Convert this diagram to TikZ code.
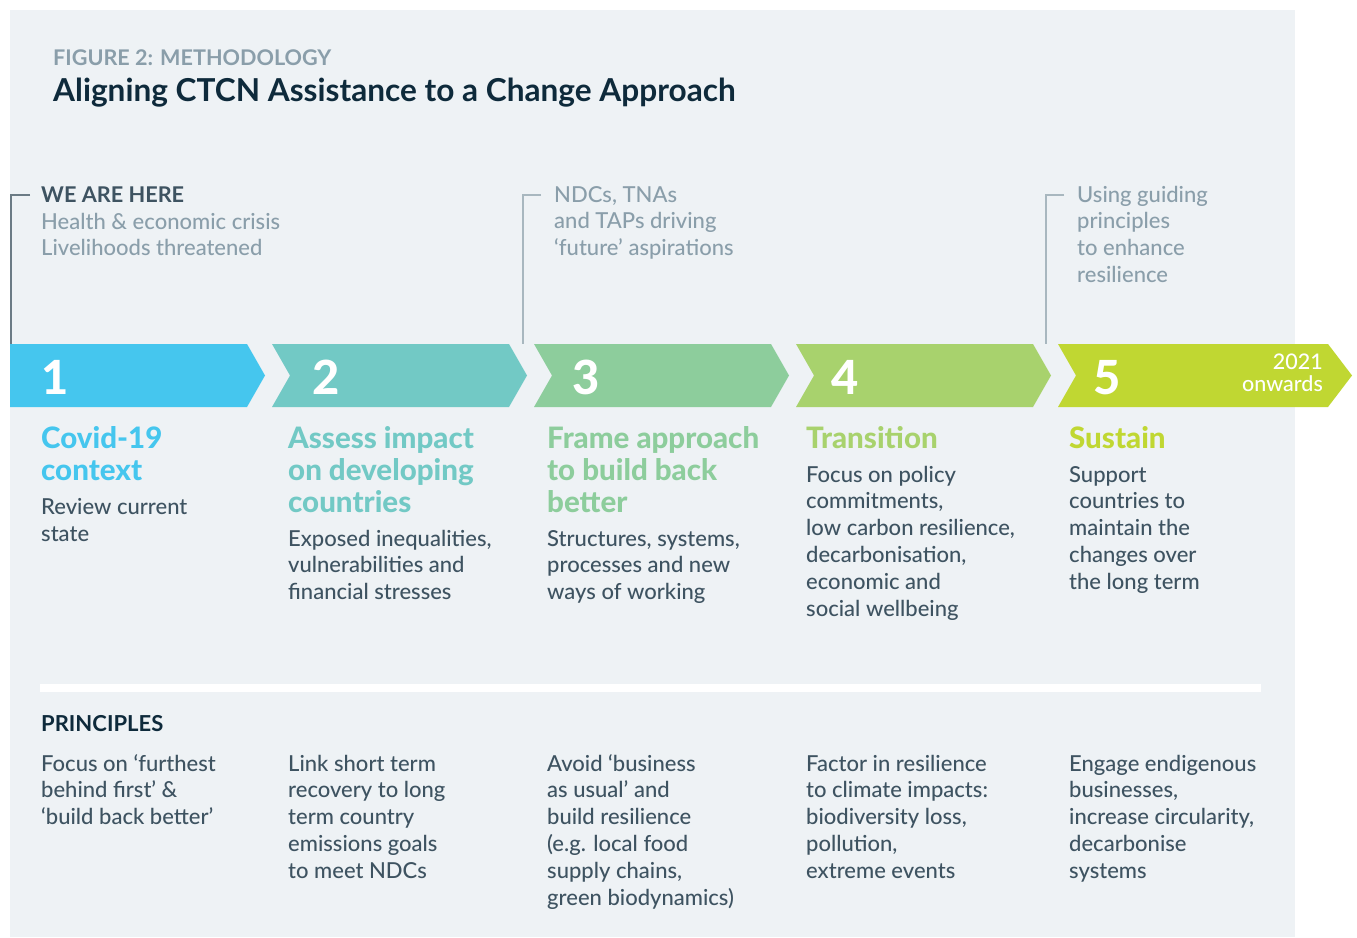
\documentclass[tikz,border=0pt]{standalone}
\usepackage{fontspec}
\setmainfont{Lato}
\newfontfamily\latoheavy{Lato Heavy}
\newfontfamily\latomedium{Lato Medium}
\definecolor{panel}{HTML}{EEF2F5}
\definecolor{navy}{HTML}{0E2A3B}
\definecolor{graylbl}{HTML}{8A9EAA}
\definecolor{slate}{HTML}{3E5361}
\definecolor{cA}{HTML}{45C6EE}
\definecolor{cB}{HTML}{72C9C5}
\definecolor{cC}{HTML}{8DCD9C}
\definecolor{cD}{HTML}{A8D26D}
\definecolor{cE}{HTML}{C0D732}
\definecolor{brkdark}{HTML}{6B7B85}
\definecolor{brklight}{HTML}{A8B7BF}
\tikzset{
  txt/.style={anchor=base west, align=left, inner sep=0pt},
  desc/.style={txt, text=slate, font=\latomedium\fontsize{22}{26.8}\selectfont},
  note/.style={txt, text=graylbl, font=\latomedium\fontsize{22}{26.8}\selectfont},
  steptitle/.style={txt, font=\latoheavy\fontsize{29.5}{32}\selectfont},
  num/.style={txt, text=white, font=\latoheavy\fontsize{47}{47}\selectfont},
  bracket/.style={line width=1.2pt},
}
\begin{document}
\begin{tikzpicture}[x=1pt,y=-1pt]
\useasboundingbox (0,0) rectangle (1357,937);
\fill[white] (0,0) rectangle (1357,937);
\fill[panel] (10,10) rectangle (1295,937);

% titles (multi-line nodes are placed by the baseline of their last line)
\node[txt, text=graylbl, font=\bfseries\fontsize{21.6}{24}\selectfont] (fig) at (53,65) {FIGURE 2: METHODOLOGY};
\node[txt, text=navy, font=\bfseries\fontsize{31.6}{36}\selectfont] (title) at (53,101) {Aligning CTCN Assistance to a Change Approach};

% chevrons
\fill[cA] (10,344) -- (247,344) -- (265,375.5) -- (247,407) -- (10,407) -- cycle;
\fill[cB] (272,344) -- (509,344) -- (527,375.5) -- (509,407) -- (272,407) -- (290,375.5) -- cycle;
\fill[cC] (534,344) -- (771,344) -- (789,375.5) -- (771,407) -- (534,407) -- (552,375.5) -- cycle;
\fill[cD] (796,344) -- (1033,344) -- (1051,375.5) -- (1033,407) -- (796,407) -- (814,375.5) -- cycle;
\fill[cE] (1058,344) -- (1328,344) -- (1352,375.5) -- (1328,407) -- (1058,407) -- (1076,375.5) -- cycle;

\node[num] (n1) at (41,394) {1};
\node[num] (n2) at (312,394) {2};
\node[num] (n3) at (572,394) {3};
\node[num] (n4) at (831,394) {4};
\node[num] (n5) at (1093,394) {5};
\node[anchor=base east, align=right, inner sep=0pt, text=white, font=\latomedium\fontsize{21.5}{22.5}\selectfont] (yr) at (1323,391.5) {2021\\onwards};

% brackets and notes
\coordinate (b1top) at (11,195);
\coordinate (b1tick) at (30,195);
\coordinate (b1bot) at (11,344);
\draw[bracket, brkdark] (b1tick) -- (b1top) -- (b1bot);
\node[txt, text=slate, font=\bfseries\fontsize{21.7}{24}\selectfont] (here) at (41,202) {WE ARE HERE};
\node[note] (herenote) at (41,255.8) {Health \& economic crisis\\Livelihoods threatened};

\coordinate (b2top) at (523,195);
\coordinate (b2tick) at (541,195);
\coordinate (b2bot) at (523,344);
\draw[bracket, brklight] (b2tick) -- (b2top) -- (b2bot);
\node[note] (ndcs) at (554,255.6) {NDCs, TNAs\\and TAPs driving\\‘future’ aspirations};

\coordinate (b3top) at (1046,195);
\coordinate (b3tick) at (1064,195);
\coordinate (b3bot) at (1046,344);
\draw[bracket, brklight] (b3tick) -- (b3top) -- (b3bot);
\node[note] (guide) at (1077,282.4) {Using guiding\\principles\\to enhance\\resilience};

% step titles
\node[steptitle, text=cA] (t1) at (41,480) {Covid-19\\context};
\node[steptitle, text=cB] (t2) at (288,512) {Assess impact\\on developing\\countries};
\node[steptitle, text=cC] (t3) at (547,512) {Frame approach\\to build back\\better};
\node[steptitle, text=cD] (t4) at (806,448) {Transition};
\node[steptitle, text=cE] (t5) at (1069,448) {Sustain};

% descriptions
\node[desc] (d1) at (41,541.5) {Review current\\state};
\node[desc] (d2) at (288,599.6) {Exposed inequalities,\\vulnerabilities and\\financial stresses};
\node[desc] (d3) at (547,599.6) {Structures, systems,\\processes and new\\ways of working};
\node[desc] (d4) at (806,616) {Focus on policy\\commitments,\\low carbon resilience,\\decarbonisation,\\economic and\\social wellbeing};
\node[desc] (d5) at (1069,589.2) {Support\\countries to\\maintain the\\changes over\\the long term};

% separator
\fill[white] (40,684) rectangle (1261,692);

% principles
\node[txt, text=navy, font=\bfseries\fontsize{22}{24}\selectfont] (princ) at (41,731) {PRINCIPLES};
\node[desc] (p1) at (41,824.6) {Focus on ‘furthest\\behind first’ \&\\‘build back better’};
\node[desc] (p2) at (288,878.2) {Link short term\\recovery to long\\term country\\emissions goals\\to meet NDCs};
\node[desc] (p3) at (547,905) {Avoid ‘business\\as usual’ and\\build resilience\\(e.g. local food\\supply chains,\\green biodynamics)};
\node[desc] (p4) at (806,878.2) {Factor in resilience\\to climate impacts:\\biodiversity loss,\\pollution,\\extreme events};
\node[desc] (p5) at (1069,878.2) {Engage endigenous\\businesses,\\increase circularity,\\decarbonise\\systems};
\end{tikzpicture}
\end{document}
